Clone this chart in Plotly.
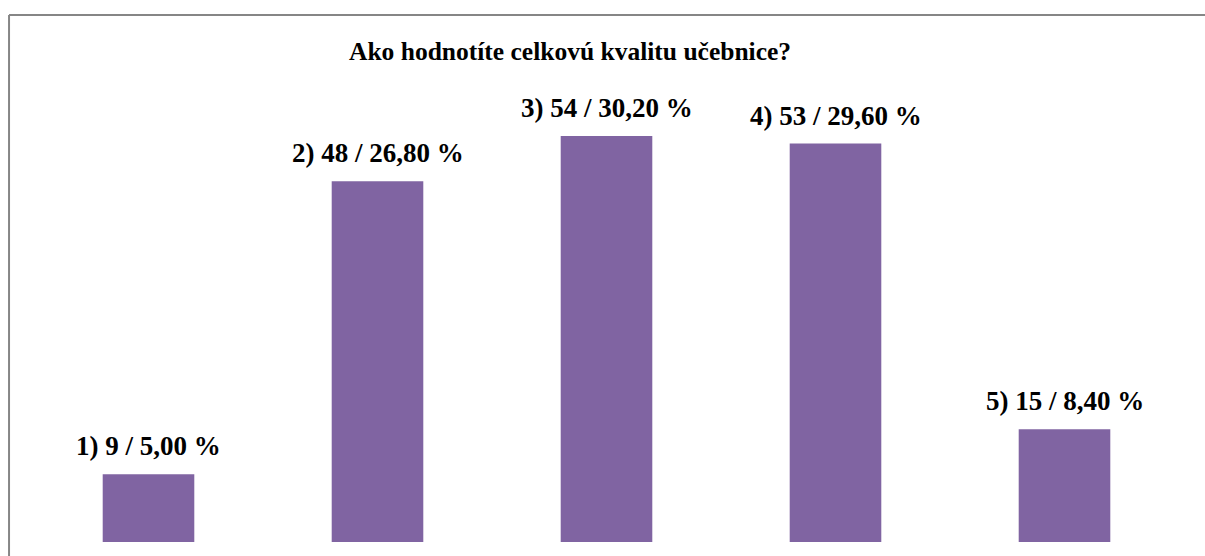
import plotly.graph_objects as go

# Survey answers: option number, respondent count and share
options = ["1)", "2)", "3)", "4)", "5)"]
counts = [9, 48, 54, 53, 15]
shares = ["5,00", "26,80", "30,20", "29,60", "8,40"]
title_text = "Ako hodnotíte celkovú kvalitu učebnice?"

BAR_COLOR = "#8064A2"
FONT = "Liberation Serif"

labels = [f"{o} {c} / {s} %" for o, c, s in zip(options, counts, shares)]

fig = go.Figure(
    go.Bar(
        x=options,
        y=counts,
        marker=dict(color=BAR_COLOR, line=dict(width=0)),
        width=0.4,
        hoverinfo="skip",
    )
)

# Value labels above each bar
for o, c, lab in zip(options, counts, labels):
    fig.add_annotation(
        x=o, y=c, text=f"<b>{lab}</b>", showarrow=False,
        xanchor="center", yanchor="bottom", yshift=11,
        font=dict(family=FONT, size=27, color="black"),
    )

# Chart title
fig.add_annotation(
    xref="paper", yref="paper", x=0.468, y=1.051,
    text=f"<b>{title_text}</b>", showarrow=False,
    xanchor="center", yanchor="bottom",
    font=dict(family=FONT, size=25.5, color="black"),
)

# Outer chart frame: top and left edges
frame = dict(color="#868686", width=2)
fig.add_shape(type="line", xref="paper", yref="paper",
              x0=-0.0218, x1=1.0227, y0=1.1685, y1=1.1685, line=frame)
fig.add_shape(type="line", xref="paper", yref="paper",
              x0=-0.0218, x1=-0.0218, y0=-0.031, y1=1.1685, line=frame)

fig.update_layout(
    width=1205, height=556,
    margin=dict(l=34, r=26, t=91, b=14, pad=0),
    paper_bgcolor="white", plot_bgcolor="white",
    showlegend=False,
    xaxis=dict(visible=False, range=[-0.5, 4.5]),
    yaxis=dict(visible=False, range=[0, 60]),
)

fig.write_html("out.html")
